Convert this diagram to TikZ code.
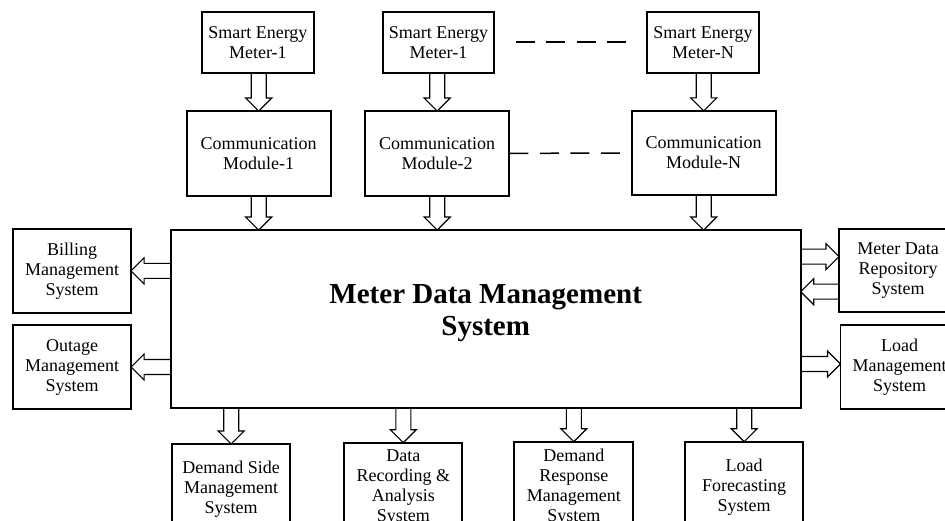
\documentclass[tikz,border=0pt]{standalone}
\usepackage{fontspec}
\setmainfont{Liberation Serif}
\usetikzlibrary{calc}

\tikzset{
  box/.style={draw, line width=1.8pt, inner sep=0pt, outer sep=0pt,
    align=center, font=\fontsize{18}{20}\selectfont},
  titletext/.style={align=center, inner sep=0pt, font=\bfseries\fontsize{29}{32}\selectfont},
  blockarr/.style={draw, line width=1.1pt, line join=miter},
  dashlink/.style={draw, line width=1.5pt, dash pattern=on 19pt off 11.5pt}
}

% hollow block arrow from #1 to #2 (tip at #2)
\newcommand{\hollowarrow}[2]{%
  \coordinate (ha) at (#1);
  \coordinate (hz) at (#2);
  \coordinate (hb) at ($(hz)!13pt!(ha)$);
  \draw[blockarr] ($(ha)!7.5pt!90:(hz)$) -- ($(hb)!7.5pt!-90:(ha)$)
    -- ($(hb)!13pt!-90:(ha)$) -- (hz) -- ($(hb)!13pt!90:(ha)$)
    -- ($(hb)!7.5pt!90:(ha)$) -- ($(ha)!7.5pt!-90:(hz)$);
}

\begin{document}
\begin{tikzpicture}[x=1pt, y=-1pt]
  \useasboundingbox (0,0) rectangle (945,521);
  \clip (0,0) rectangle (945,521);

  % meters
  \node[box, minimum width=112.3pt, minimum height=61pt] (sem1) at (257.9,42.2) {Smart Energy\\Meter-1};
  \node[box, minimum width=111.6pt, minimum height=61pt] (sem2) at (438.5,42.2) {Smart Energy\\Meter-1};
  \node[box, minimum width=112.6pt, minimum height=61pt] (semn) at (703,42.2) {Smart Energy\\Meter-N};

  % communication modules
  \node[box, minimum width=144pt, minimum height=84.7pt] (cm1) at (258.7,153.4) {Communication\\Module-1};
  \node[box, minimum width=144.3pt, minimum height=84.7pt] (cm2) at (437.2,153.4) {Communication\\Module-2};
  \node[box, minimum width=144pt, minimum height=84.3pt] (cmn) at (703.7,153) {Communication\\Module-N};

  % central system
  \node[box, minimum width=630pt, minimum height=178.3pt] (main) at (485.7,319.2) {};
  \node[titletext] (title) at ($(main.center)+(0,-6)$) {Meter Data Management\\System};

  % left side systems
  \node[box, minimum width=117.7pt, minimum height=83.7pt] (bill) at (72.2,270.9) {Billing\\Management\\System};
  \node[box, minimum width=117.7pt, minimum height=84pt] (outage) at (72.2,367) {Outage\\Management\\System};

  % right side systems
  \node[box, minimum width=118pt, minimum height=83.3pt] (mdr) at (898,270.7) {Meter Data\\Repository\\System};
  \node[box, minimum width=118pt, minimum height=84pt] (lm) at (899.5,367) {Load\\Management\\System};

  % bottom systems
  \node[box, minimum width=117.7pt, minimum height=90pt] (dsm) at (231.2,489) {Demand Side\\Management\\System};
  \node[box, minimum width=118pt, minimum height=90pt] (drec) at (403.3,487.7) {Data\\Recording \&\\Analysis\\System};
  \node[box, minimum width=119pt, minimum height=90pt] (drm) at (573.8,486.7) {Demand\\Response\\Management\\System};
  \node[box, minimum width=118.3pt, minimum height=90pt] (lf) at (744.2,486.7) {Load\\Forecasting\\System};

  % meters to modules
  \hollowarrow{cm1.north |- sem1.south}{cm1.north}
  \hollowarrow{cm2.north |- sem2.south}{cm2.north}
  \hollowarrow{cmn.north |- semn.south}{cmn.north}

  % modules to central system
  \hollowarrow{cm1.south}{main.north -| cm1.south}
  \hollowarrow{cm2.south}{main.north -| cm2.south}
  \hollowarrow{cmn.south}{main.north -| cmn.south}

  % central system to left side
  \hollowarrow{main.west |- bill.east}{bill.east}
  \hollowarrow{main.west |- outage.east}{outage.east}

  % central system and right side
  \coordinate (r1) at ($(mdr.west)+(0,-14)$);
  \coordinate (r2) at ($(mdr.west)+(0,21)$);
  \coordinate (r3) at ($(lm.west)+(0,-3)$);
  \hollowarrow{main.east |- r1}{r1}
  \hollowarrow{r2}{main.east |- r2}
  \hollowarrow{main.east |- r3}{r3}

  % central system to bottom
  \hollowarrow{main.south -| dsm.north}{dsm.north}
  \hollowarrow{main.south -| drec.north}{drec.north}
  \hollowarrow{main.south -| drm.north}{drm.north}
  \hollowarrow{main.south -| lf.north}{lf.north}

  % dashed continuation links
  \coordinate (d1) at ($(sem2.east)+(21.5,0)$);
  \coordinate (d2) at ($(semn.west)+(-20.5,0)$);
  \draw[dashlink] (d1) -- (d2);
  \coordinate (d3) at ($(cmn.west)+(-10,0)$);
  \draw[dashlink] (cm2.east) -- (d3);
\end{tikzpicture}
\end{document}
